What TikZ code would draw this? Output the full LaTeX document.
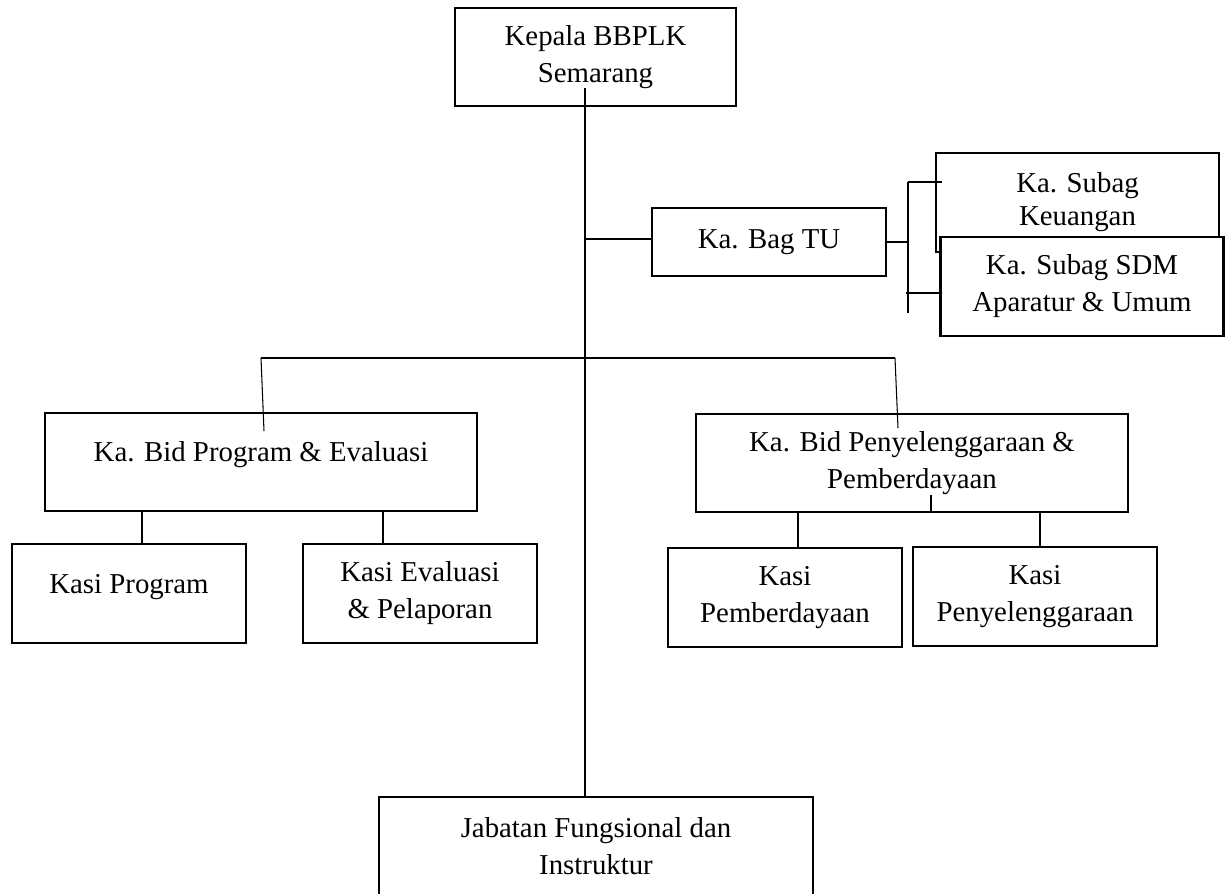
\documentclass[tikz,border=0pt]{standalone}
\usepackage{fontspec}
\setmainfont{Liberation Serif}

\begin{document}
\begin{tikzpicture}[
    x=0.02cm, y=-0.02cm, %one unit = one pixel of the chart
    box/.style={draw=black,fill=white,line width=1.6pt,align=center,
        inner sep=0pt,font=\fontsize{16.4}{21}\selectfont},
    bidbox/.style={box,minimum width=8.64cm,minimum height=1.96cm},
    kasibox/.style={box,minimum width=4.68cm,minimum height=1.98cm},
    subbox/.style={box,minimum width=5.66cm,minimum height=1.98cm},
    link/.style={draw=black,line width=0.6pt},
    ]
    \path[use as bounding box] (0,0) rectangle (1227,893);
    \clip (0,0) rectangle (1227,893);

    %Kepala and TU
    \node[box,minimum width=5.62cm,minimum height=1.96cm] (kepala) at (595.5,57) {Kepala BBPLK\\Semarang};
    \node[box,minimum width=4.68cm,minimum height=1.36cm] (bagtu) at (769,242) {Ka. Bag TU};
    \node[subbox,font=\fontsize{16.4}{18.5}\selectfont,text height=1.04cm] (keuangan) at (1077.5,202.5) {Ka. Subag\\Keuangan};
    \node[subbox] (sdm) at (1082,286.5) {Ka. Subag SDM\\Aparatur \& Umum};

    %Bidang
    \node[bidbox,text height=0.4cm,text depth=0.42cm] (bidprog) at (261,462) {Ka. Bid Program \& Evaluasi};
    \node[bidbox] (bidpen) at (912,463) {Ka. Bid Penyelenggaraan \&\\Pemberdayaan};

    %Kasi
    \node[kasibox,text height=0.4cm,text depth=0.42cm] (kprog) at (129,593.5) {Kasi Program};
    \node[kasibox] (keval) at (420,593.5) {Kasi Evaluasi\\\& Pelaporan};
    \node[kasibox] (kpemb) at (785,597.5) {Kasi\\Pemberdayaan};
    \node[kasibox,minimum width=4.88cm] (kpen) at (1035,596.5) {Kasi\\Penyelenggaraan};

    %Jabatan
    \node[box,minimum width=8.68cm,minimum height=1.98cm] (jabatan) at (596,846.5) {Jabatan Fungsional dan\\Instruktur};

    %spine
    \coordinate (spine) at (585,88);
    \draw[link] (spine) -- (spine |- jabatan.north);
    \coordinate (tujoin) at (585,239);
    \draw[link] (tujoin) -- (tujoin -| bagtu.west);

    %subag bracket
    \coordinate (brtop) at (908,182);
    \coordinate (brbot) at (908,313);
    \draw[link] (brtop) -- (brbot);
    \draw[link] (bagtu.east) -- (bagtu.east -| brtop);
    \draw[link] (brtop) -- ([xshift=0.14cm]keuangan.west |- brtop);
    \coordinate (sdmjoin) at (906,293);
    \draw[link] (sdmjoin) -- (sdmjoin -| sdm.west);

    %bus to bidang
    \coordinate (busl) at (261,358);
    \coordinate (busr) at (895,358);
    \coordinate (dropl) at (264,431);
    \coordinate (dropr) at (898,428);
    \draw[link] (busl) -- (busr);
    \draw[link] (busl) -- (dropl);
    \draw[link] (busr) -- (dropr);
    \coordinate (stub) at (931,495);
    \draw[link] (stub) -- (stub |- bidpen.south);

    %bidang to kasi
    \draw[link] (bidprog.south -| 142,0) -- (kprog.north -| 142,0);
    \draw[link] (bidprog.south -| 383,0) -- (keval.north -| 383,0);
    \draw[link] (bidpen.south -| 798,0) -- (kpemb.north -| 798,0);
    \draw[link] (bidpen.south -| 1040,0) -- (kpen.north -| 1040,0);

\end{tikzpicture}
\end{document}
